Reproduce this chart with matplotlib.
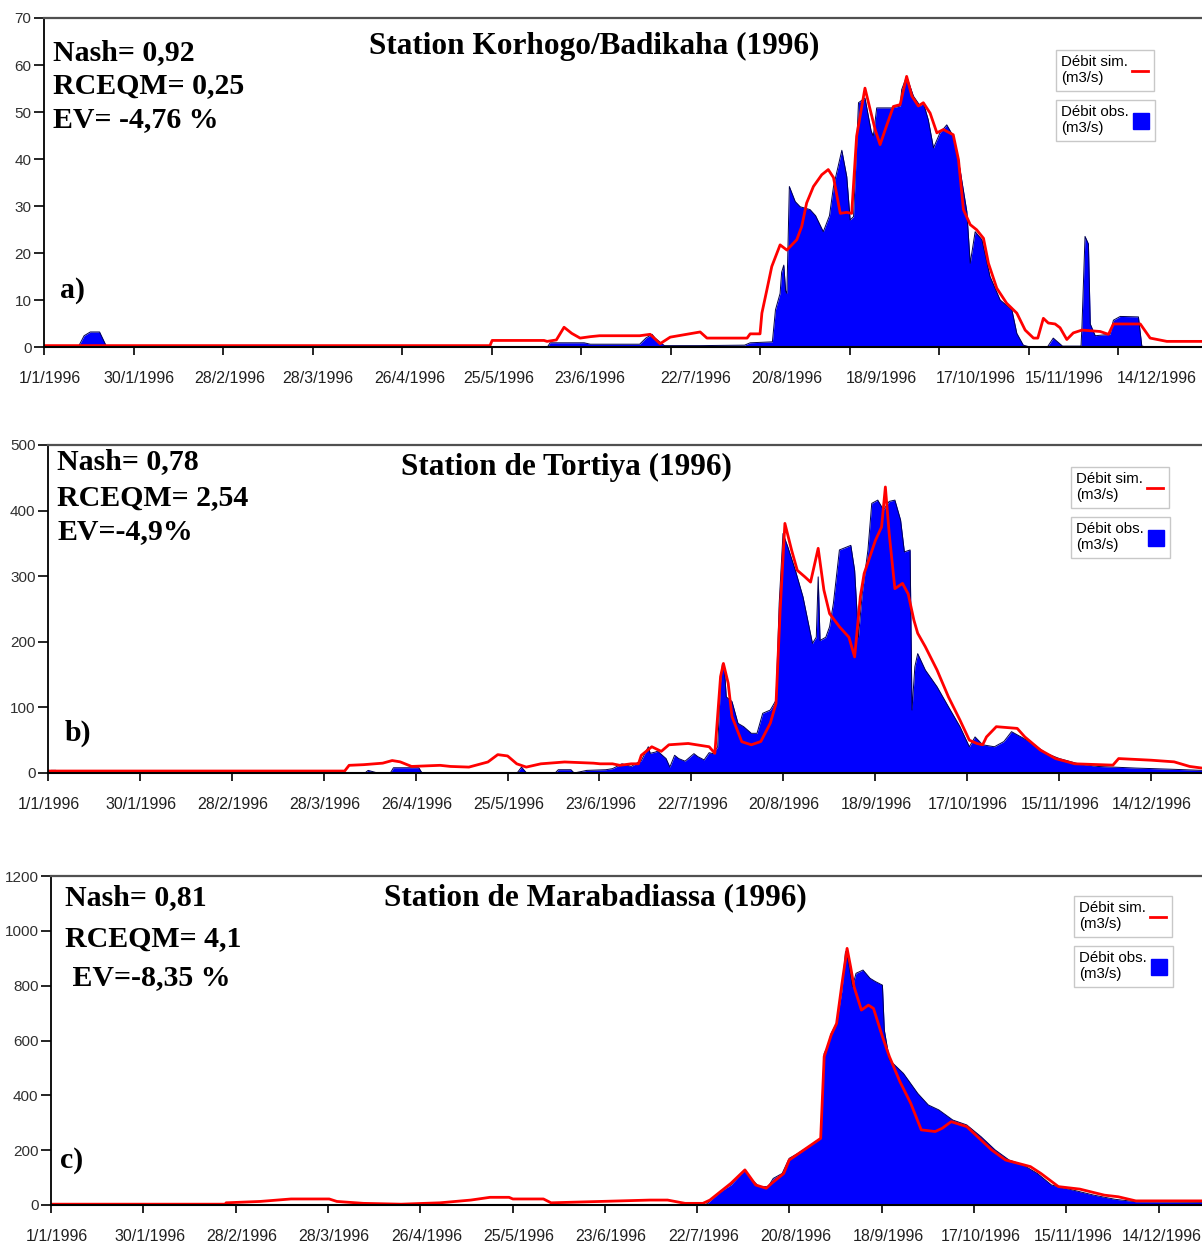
import matplotlib.pyplot as plt
from matplotlib.lines import Line2D
import numpy as np

# x = day of 1996 (0 = 1 January), y = discharge (m3/s)
tick_days = [0, 29, 58, 87, 116, 145, 174, 203, 232, 261, 290, 319, 348]
tick_labels = ['1/1/1996', '30/1/1996', '28/2/1996', '28/3/1996', '26/4/1996',
               '25/5/1996', '23/6/1996', '22/7/1996', '20/8/1996', '18/9/1996',
               '17/10/1996', '15/11/1996', '14/12/1996']

# --- a) Korhogo/Badikaha
a_obs = np.array([
    [0, 0], [11, 0], [13, 2.5], [15, 3.3], [18, 3.3], [20.4, 0], [163, 0], [164, 1.0],
    [175, 1.0], [177, 0.7], [193, 0.7], [195, 2.0], [197, 2.8], [198, 2.0], [201, 0.4],
    [212.6, 0.4], [227, 0.5], [228.8, 1.0], [236, 1.2], [237, 8], [238.5, 11.5], [239, 16],
    [239.7, 17.5], [240.3, 12], [240.7, 11.5], [241.5, 34.2], [243.4, 31], [245, 29.9],
    [248.2, 29.3], [250, 28], [252.5, 24.6], [254.5, 28], [255.8, 34.2], [258.5, 41.9],
    [260.1, 36.3], [261.2, 27.1], [262.3, 27.8], [263.9, 52], [266, 53], [268, 46],
    [268.7, 44.9], [269.8, 50.9], [274.7, 50.9], [277.4, 51.3], [277.9, 54.8], [279.5, 57.6],
    [281.7, 53.4], [283.9, 51.3], [284.9, 52], [286.5, 48.4], [288.2, 42.4], [290.3, 45.6],
    [292.5, 47.3], [294.6, 44.9], [296.8, 37.8], [299, 28.9], [300.1, 17.9], [301.7, 24.6],
    [303.9, 22.9], [306.5, 15.1], [309.8, 10.1], [313.6, 8], [315.2, 3], [317.3, 0.5],
    [320, 0], [325, 0], [327, 2], [330, 0.3], [336, 0.3], [336.3, 4.4], [337.3, 23.6],
    [338.4, 22], [339, 5], [340.6, 2.5], [345.4, 2.8], [346.5, 5.8], [348.7, 6.6],
    [354.6, 6.5], [355.7, 0.3], [358, 0], [375.2, 0]])
a_sim = np.array([
    [0, 0.4], [144.5, 0.4], [145.2, 1.5], [162, 1.5], [163, 1.3], [166, 1.6], [168.5, 4.3],
    [171, 3.0], [173.7, 2.0], [177, 2.3], [180, 2.5], [193, 2.5], [196.4, 2.8], [199.6, 0.8],
    [202.9, 2.2], [212.6, 3.3], [214.8, 2.0], [227.8, 2.0], [228.8, 2.9], [232, 2.9],
    [232.6, 7.3], [234.2, 12.2], [235.8, 17.2], [238.5, 21.8], [240.7, 20.7], [243.9, 22.9],
    [245.5, 25.7], [247.1, 30.7], [249.3, 34.2], [252, 36.7], [254.1, 37.8], [255.8, 36.1],
    [258, 28.5], [260.1, 28.7], [261.7, 28.5], [263.3, 44.9], [266, 55.1], [267.7, 50.5],
    [269.3, 46.3], [270.9, 43.1], [273.1, 47.3], [275.2, 51.2], [277.4, 51.6], [279.5, 57.6],
    [281.2, 53.4], [283.3, 51.3], [284.9, 52], [287.1, 49.8], [289.3, 45.6], [291.4, 46.3],
    [294.6, 45.2], [296.3, 39.9], [297.9, 29.3], [300.1, 26.1], [302.2, 25], [304.4, 23.2],
    [306, 17.9], [308.7, 12.6], [311.9, 9.4], [315.2, 7.3], [317.9, 3.7], [320.6, 2.0],
    [322, 2.0], [323.8, 6.2], [325.4, 5.2], [327.6, 5.0], [329.2, 4.2], [331.4, 1.7],
    [333.5, 3.1], [336.3, 3.7], [342.2, 3.4], [344.9, 2.8], [346.5, 5.0], [355.2, 5.0],
    [358.4, 2.0], [363.8, 1.3], [375.2, 1.3]])

# --- b) Tortiya
b_obs = np.array([
    [0, 0], [1, 4], [2.5, 4], [3, 0], [100, 0], [101, 4], [104, 0], [108, 0], [109, 8],
    [117, 8], [118, 0], [148, 0], [149.4, 9], [151, 0], [160, 0], [161, 5], [165, 5],
    [166, 0], [170, 4], [176, 5], [178.1, 6.6], [181.1, 14], [184, 10], [187.2, 19],
    [189.4, 40], [190, 30], [191.7, 32], [192.3, 33.5], [195, 22], [196.2, 9], [197.7, 27],
    [199, 22], [201, 18], [203.8, 29.5], [205, 25], [207, 20], [208.6, 31], [209.8, 29.5],
    [211.3, 40], [212.2, 139], [212.8, 167], [213.4, 160], [214, 116], [215.8, 109],
    [217.7, 75.7], [219.5, 70.6], [221.9, 60.5], [223.7, 60.5], [225.5, 91], [227.9, 96],
    [229.7, 111], [230.7, 258.6], [231.9, 365], [233.4, 345], [235.8, 309], [238.2, 268.7],
    [241.2, 197.6], [242.4, 207], [243, 299], [243.6, 202], [245.4, 207], [246.6, 223],
    [247.8, 258.6], [249.7, 340], [253.3, 347], [254.5, 309], [255.7, 207], [256.9, 273],
    [258.7, 340], [259.9, 411], [261.8, 416], [263.6, 401], [265.4, 414], [267.2, 416],
    [269, 385.6], [270.2, 337], [272, 340], [272.6, 96], [273.5, 162], [274.4, 182],
    [276.8, 157], [280.5, 131.5], [284.1, 101], [287.7, 71], [290.7, 40], [292.5, 55],
    [294.9, 43], [298.6, 40], [301.6, 48], [304, 63], [307, 55], [310.7, 45], [314.9, 30],
    [319.1, 22], [325.1, 14], [331.2, 10], [343.3, 7.5], [355.3, 5.6], [364.1, 4]])
b_sim = np.array([
    [0, 3], [93.6, 3], [95, 11.7], [99.6, 12.7], [105.6, 15], [108.6, 19], [111.1, 17],
    [114.7, 10], [117.4, 10.5], [123.7, 11.7], [127, 10], [132.8, 9], [138.8, 16.8],
    [141.9, 28], [145, 26], [147.9, 14], [150.9, 9], [155.5, 14], [163, 16.8], [172.1, 15],
    [174.2, 14], [178.1, 14], [180.4, 11.7], [184, 14], [186.3, 14], [187.2, 27],
    [190.5, 40], [193.5, 33], [195.9, 43], [202, 45], [208.6, 40], [210.4, 30], [212.2, 147],
    [213.1, 167], [214.6, 137], [215.8, 86], [218.9, 47.7], [221.9, 43], [224.9, 48],
    [227.9, 76], [229.7, 106], [231, 248], [232.5, 380.5], [234.6, 340], [236.4, 309],
    [238.8, 299], [240.6, 291], [243, 342.5], [244.8, 279], [246.6, 243], [249.7, 223],
    [252.7, 207], [254.5, 177], [256.3, 268.7], [257.5, 304], [261.1, 355], [263, 375],
    [264.2, 436], [265.4, 365], [267.2, 281], [269.6, 289], [271.4, 273], [273.2, 233],
    [274.4, 213], [276.8, 192.5], [280.5, 157], [284.1, 116], [287.7, 81], [290.7, 50],
    [293.1, 45], [294.9, 43], [296.1, 55], [299.2, 70.6], [305.8, 68], [308.2, 55],
    [313.1, 35], [317.9, 22], [324, 14], [336, 12], [337.8, 22], [348.1, 19.5],
    [355.3, 17], [360.2, 10], [364.1, 7.5]])

# --- c) Marabadiassa
c_obs = np.array([
    [0, 0], [204, 0], [205.9, 3], [210.3, 49], [213.6, 73], [218, 128], [220.3, 91],
    [222.5, 67], [225.3, 67], [226.9, 97], [229.7, 115], [231.9, 170], [234.6, 188],
    [238, 213], [241.8, 243], [242.9, 553], [244, 578], [245.1, 626], [246.8, 662],
    [248.5, 784], [249.6, 924], [250.4, 894], [251.8, 796], [252.9, 845], [255.1, 857],
    [257.3, 827], [259, 815], [261.2, 802], [261.8, 638], [263.4, 529], [267.8, 480],
    [272.3, 407], [275.6, 365], [278.9, 347], [283.3, 310], [287.7, 292], [292.2, 249],
    [296.6, 201], [301, 164], [305.4, 146], [309.9, 115], [314.3, 73], [320.9, 55],
    [327.6, 36], [334.2, 21], [340.8, 12], [361.6, 10]])
c_sim = np.array([
    [0, 3], [54.9, 3], [55, 8], [65.7, 13], [75.4, 22], [87.4, 22], [89.8, 13], [98.2, 6],
    [110, 3], [122.2, 8], [131.9, 18], [137.9, 28], [143.9, 28], [145.1, 22], [154.7, 22],
    [157.1, 8], [188.2, 18], [193.7, 18], [199.2, 6], [204.8, 6], [207, 18], [213.6, 79],
    [218, 128], [221.4, 73], [224.7, 61], [226.4, 79], [230.2, 115], [231.9, 164],
    [235.8, 195], [241.8, 243], [242.9, 541], [245.1, 620], [246.8, 662], [248.5, 808],
    [250.1, 936], [251.2, 869], [252.3, 796], [254.6, 711], [256.8, 729], [258.4, 717],
    [261.2, 614], [263.4, 541], [266.7, 450], [270.1, 371], [273.4, 274], [277.8, 268],
    [280, 280], [282.8, 304], [287.7, 286], [291.1, 249], [295.5, 201], [299.9, 164],
    [307.7, 140], [311, 115], [316.5, 67], [323.2, 58], [330.9, 36], [335.3, 30],
    [340.8, 15], [361.6, 15]])

titles = ['Station Korhogo/Badikaha (1996)', 'Station de Tortiya (1996)',
          'Station de Marabadiassa (1996)']
stats = [['Nash= 0,92', 'RCEQM= 0,25', 'EV= -4,76 %'],
         ['Nash= 0,78', 'RCEQM= 2,54', 'EV=-4,9%'],
         ['Nash= 0,81', 'RCEQM= 4,1', ' EV=-8,35 %']]
letters = ['a)', 'b)', 'c)']

#-------------------------------PLOT--------------------------------------
W, H = 1202, 1245
fig = plt.figure(figsize=(W / 100, H / 100), dpi=100)

def px_axes(left, top, right, bottom):
    return fig.add_axes([left / W, 1 - bottom / H, (right - left) / W, (bottom - top) / H])

def ftext(x, y, s, size=21.5, **kw):
    fig.text(x / W, 1 - y / H, s, fontfamily='Liberation Serif', fontweight='bold',
             fontsize=size, va='center', **kw)

panels = [
    # obs, sim, axes box (px), xmax, ymax, ystep, label shift (days)
    (a_obs, a_sim, (44, 18, 1202, 347.5), 375.2, 70, 10,
     [2, 1.8, 2.3, 1.8, 2.6, 2.4, 2.9, 8.1, 8.7, 10.4, 12, 11.7, 12.5]),
    (b_obs, b_sim, (48, 445, 1202, 773), 364.1, 500, 100, [0.3] * 13),
    (c_obs, c_sim, (51, 876, 1202, 1205), 361.6, 1200, 200, [2] * 12 + [1]),
]

for (obs, sim, box, xmax, ymax, ystep, shift) in panels:
    ax = px_axes(*box)
    ax.fill_between(obs[:, 0], obs[:, 1], 0, color='#0000ff', lw=0)
    ax.plot(obs[:, 0], obs[:, 1], color='#000050', lw=0.7)
    ax.plot(sim[:, 0], sim[:, 1], color='#ff0000', lw=2)
    ax.set_xlim(0, xmax)
    ax.set_ylim(0, ymax)
    ax.set_yticks(np.arange(0, ymax + 1, ystep))
    ax.xaxis.remove_overlapping_locs = False
    ax.set_xticks(tick_days)
    ax.set_xticklabels([])
    ax.set_xticks([d + s for d, s in zip(tick_days, shift)], minor=True)
    ax.set_xticklabels(tick_labels, minor=True)
    ax.tick_params(axis='x', which='major', direction='out', length=6, width=1.2)
    ax.tick_params(axis='x', which='minor', length=0, pad=17, labelsize=11.5,
                   labelcolor='#202020')
    ax.tick_params(axis='y', direction='out', length=7, width=1.2, pad=2,
                   labelsize=11, labelcolor='#303030')
    for lab in ax.get_xticklabels(minor=True) + ax.get_yticklabels():
        lab.set_fontfamily('Liberation Sans')
    ax.spines['right'].set_visible(False)
    ax.spines['top'].set_color('#505050')
    ax.spines['top'].set_linewidth(1.6)
    ax.spines['left'].set_linewidth(1.3)
    ax.spines['bottom'].set_linewidth(1.5)

# station titles, criteria and panel letters
ftext(594, 46, titles[0], size=22.5, ha='center')
ftext(566, 467, titles[1], size=22.5, ha='center')
ftext(595, 898, titles[2], size=22.5, ha='center')

for i, y in enumerate([53, 86, 120]):
    ftext(53, y, stats[0][i], ha='left')
for i, y in enumerate([462, 498, 532]):
    ftext(57, y, stats[1][i], ha='left')
for i, y in enumerate([898, 939, 978]):
    ftext(65, y, stats[2][i], ha='left')

ftext(60, 290, letters[0], ha='left')
ftext(65, 733, letters[1], ha='left')
ftext(60, 1160, letters[2], ha='left')

# the two small legend boxes of each panel
leg_kw = dict(loc='upper left', bbox_transform=fig.transFigure, frameon=True,
              fancybox=False, edgecolor='#c8c8c8', framealpha=1, borderpad=0.35,
              handlelength=1.1, handletextpad=0.25, markerfirst=False,
              borderaxespad=0, prop={'family': 'Liberation Sans', 'size': 10.8})
sim_h = Line2D([], [], color='#ff0000', lw=2)
obs_h = Line2D([], [], ls='none', marker='s', markersize=11,
               markerfacecolor='#0000ff', markeredgecolor='#0000ff')
for (x, y) in [(1056, 50), (1071, 467), (1074, 896)]:
    fig.legend([sim_h], ['Débit sim.\n(m3/s)'], bbox_to_anchor=(x / W, 1 - y / H), **leg_kw)
    fig.legend([obs_h], ['Débit obs.\n(m3/s)'], bbox_to_anchor=(x / W, 1 - (y + 50) / H), **leg_kw)

fig.savefig('out.png', dpi=100)
